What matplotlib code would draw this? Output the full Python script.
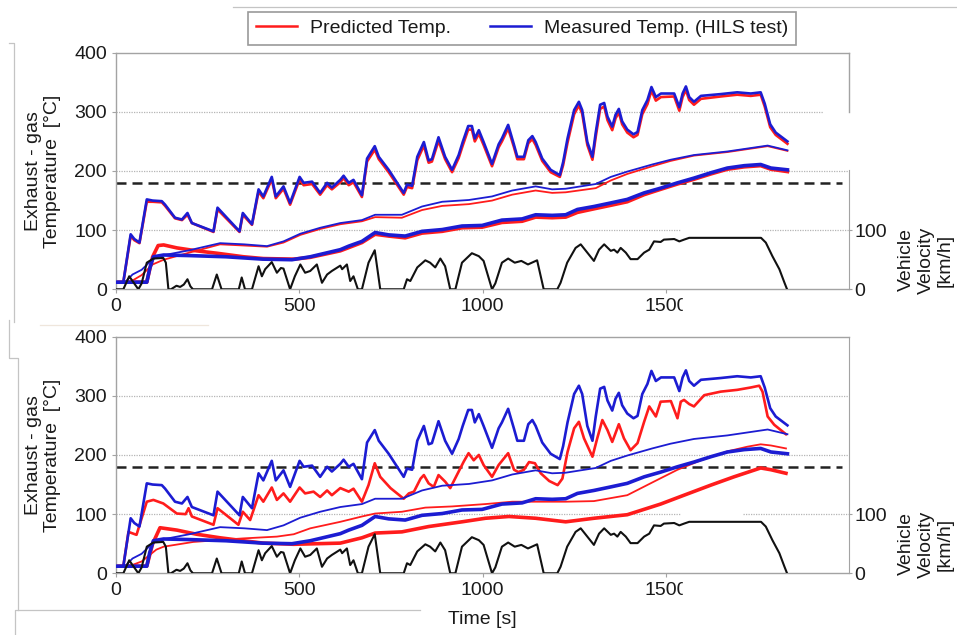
import matplotlib
matplotlib.use('Agg')
import numpy as np
from matplotlib import pyplot as plt
from matplotlib.lines import Line2D
from matplotlib.patches import Rectangle

# ---- data (time in s, temperature in degC, speed in km/h) ----

# spiky upstream curve, measured (same in both panels)
t_a = [0, 20, 40, 50, 64, 84, 100, 125, 134, 161,
       180, 195, 207, 266, 277, 337, 346, 371, 389, 402,
       425, 436, 457, 475, 501, 512, 535, 557, 576, 589,
       612, 621, 635, 648, 671, 685, 706, 717, 744, 785,
       794, 808, 822, 840, 853, 862, 880, 898, 917, 935,
       946, 961, 971, 979, 990, 1003, 1026, 1044, 1053, 1070,
       1086, 1095, 1113, 1125, 1136, 1145, 1163, 1186, 1211, 1220,
       1232, 1250, 1263, 1272, 1286, 1300, 1309, 1321, 1332, 1341,
       1354, 1363, 1372, 1381, 1395, 1412, 1423, 1436, 1450, 1461,
       1473, 1487, 1523, 1537, 1546, 1555, 1564, 1577, 1596, 1650,
       1695, 1732, 1759, 1770, 1785, 1800, 1832]
meas_a = [12, 12, 93, 85, 79, 152, 150, 149, 143, 121,
          118, 129, 112, 98, 138, 98, 129, 110, 169, 157,
          190, 157, 174, 146, 190, 180, 182, 163, 180, 172,
          185, 192, 180, 185, 159, 221, 242, 224, 202, 163,
          177, 175, 224, 249, 218, 220, 257, 224, 202, 227,
          249, 276, 276, 255, 269, 249, 212, 245, 255, 278,
          244, 224, 224, 252, 259, 249, 221, 202, 193, 215,
          255, 303, 317, 303, 249, 224, 265, 312, 315, 292,
          275, 295, 305, 284, 270, 262, 266, 303, 320, 342,
          325, 331, 331, 308, 331, 343, 325, 317, 327, 330,
          333, 331, 333, 314, 279, 265, 250]
pred_a_top = [12, 12, 90, 83, 78, 148, 148, 147, 141, 120,
              117, 126, 112, 97, 135, 97, 126, 109, 165, 154,
              186, 154, 170, 143, 186, 176, 178, 160, 176, 169,
              181, 188, 176, 181, 156, 216, 236, 220, 198, 160,
              173, 171, 218, 243, 214, 216, 251, 220, 198, 222,
              243, 270, 270, 250, 263, 244, 208, 240, 250, 272,
              240, 220, 220, 247, 254, 244, 217, 198, 190, 210,
              248, 296, 311, 297, 244, 219, 258, 305, 309, 286,
              269, 289, 299, 279, 265, 257, 261, 296, 313, 336,
              319, 325, 326, 302, 325, 337, 320, 312, 322, 326,
              329, 327, 329, 309, 274, 261, 246]

t_a_bot = [0, 20, 34, 56, 84, 102, 129, 166, 190, 198,
           207, 266, 277, 334, 346, 366, 389, 402, 425, 439,
           457, 475, 501, 516, 539, 557, 576, 589, 612, 635,
           648, 671, 689, 706, 721, 749, 785, 799, 813, 831,
           840, 853, 867, 880, 898, 912, 935, 949, 962, 976,
           990, 1003, 1026, 1044, 1070, 1086, 1098, 1113, 1127, 1143,
           1159, 1182, 1205, 1218, 1232, 1250, 1263, 1277, 1300, 1313,
           1327, 1341, 1354, 1372, 1386, 1404, 1423, 1441, 1455, 1473,
           1486, 1514, 1532, 1541, 1550, 1564, 1577, 1605, 1650, 1695,
           1732, 1755, 1764, 1778, 1796, 1828]
pred_a_bot = [12, 12, 70, 65, 121, 124, 118, 101, 100, 110,
              96, 82, 110, 82, 104, 90, 132, 121, 145, 124,
              135, 121, 145, 135, 138, 129, 140, 132, 144, 138,
              143, 121, 149, 186, 163, 144, 126, 135, 138, 160,
              166, 152, 146, 166, 155, 144, 172, 189, 203, 191,
              200, 183, 163, 183, 203, 175, 171, 175, 188, 186,
              169, 156, 149, 160, 205, 245, 256, 228, 197, 228,
              259, 242, 222, 252, 228, 208, 220, 256, 282, 265,
              290, 291, 262, 290, 293, 286, 282, 301, 307, 310,
              314, 317, 307, 265, 251, 235]

# smooth middle curve (thin)
t_b = [0, 25, 45, 70, 95, 110, 150, 200, 284, 350,
       412, 457, 503, 557, 612, 671, 707, 780, 835, 890,
       963, 1026, 1081, 1145, 1190, 1227, 1309, 1350, 1395, 1463,
       1513, 1577, 1668, 1778, 1832]
meas_b = [12, 12, 25, 33, 48, 55, 60, 66, 78, 76,
          73, 81, 94, 104, 112, 117, 126, 126, 140, 148,
          151, 157, 167, 174, 169, 170, 178, 190, 199, 211,
          219, 227, 233, 243, 235]
t_b_top = [0, 40, 70, 100, 130, 200, 284, 350, 412, 457,
           503, 557, 612, 671, 707, 780, 835, 890, 963, 1026,
           1081, 1145, 1190, 1227, 1309, 1350, 1395, 1463, 1513, 1577,
           1668, 1778, 1832]
pred_b_top = [12, 13, 24, 42, 50, 62, 76, 74, 72, 79,
              92, 102, 110, 115, 122, 121, 134, 141, 144, 150,
              160, 167, 163, 164, 171, 184, 195, 208, 217, 226,
              232, 242, 234]
t_b_bot = [0, 40, 70, 90, 110, 130, 211, 300, 348, 439,
           485, 530, 612, 671, 707, 780, 844, 917, 1008, 1081,
           1145, 1227, 1304, 1395, 1468, 1532, 1596, 1668, 1723, 1759,
           1787, 1828]
pred_b_bot = [12, 13, 20, 30, 40, 45, 53, 57, 59, 62,
              66, 76, 87, 96, 101, 104, 111, 113, 117, 121,
              121, 121, 122, 132, 155, 175, 191, 206, 214, 218,
              216, 211]

# smooth lower curve (thick)
t_c = [0, 84, 92, 102, 130, 200, 300, 400, 480, 530,
       612, 635, 671, 707, 744, 789, 835, 890, 944, 999,
       1053, 1108, 1145, 1190, 1227, 1259, 1304, 1350, 1395, 1441,
       1486, 1532, 1577, 1623, 1668, 1714, 1759, 1787, 1832]
meas_c = [12, 12, 35, 55, 58, 57, 55, 51, 50, 55,
          67, 73, 81, 96, 92, 90, 98, 101, 107, 108,
          117, 119, 126, 125, 126, 135, 140, 146, 152, 163,
          171, 180, 188, 197, 205, 209, 211, 205, 202]
t_c_top = [0, 84, 100, 115, 130, 166, 220, 275, 348, 402,
           485, 530, 612, 671, 707, 744, 789, 835, 890, 944,
           999, 1053, 1108, 1145, 1190, 1227, 1259, 1304, 1350, 1395,
           1441, 1486, 1532, 1577, 1623, 1668, 1714, 1759, 1787, 1832]
pred_c_top = [12, 12, 55, 74, 75, 70, 65, 61, 55, 52,
              51, 54, 65, 79, 93, 90, 87, 95, 98, 104,
              105, 113, 115, 122, 121, 122, 130, 136, 142, 148,
              160, 169, 178, 186, 195, 203, 207, 209, 203, 199]
t_c_bot = [0, 84, 100, 120, 166, 220, 284, 348, 402, 485,
           548, 612, 671, 707, 780, 853, 944, 1008, 1072, 1145,
           1227, 1304, 1395, 1486, 1550, 1623, 1686, 1759, 1787, 1828]
pred_c_bot = [12, 12, 50, 77, 73, 66, 60, 55, 51, 49,
              50, 51, 60, 68, 70, 79, 87, 93, 96, 93,
              87, 93, 99, 117, 132, 149, 163, 178, 175, 169]

# vehicle speed
t_v = [0, 20, 36, 61, 70, 84, 102, 129, 136, 143,
       150, 165, 175, 185, 195, 203, 210, 262, 275, 288,
       335, 343, 352, 371, 389, 398, 407, 425, 439, 450,
       457, 475, 488, 503, 516, 530, 548, 562, 576, 589,
       612, 617, 630, 639, 648, 660, 671, 689, 706, 721,
       785, 794, 803, 822, 844, 857, 871, 885, 898, 912,
       926, 944, 971, 990, 1003, 1026, 1035, 1053, 1070, 1088,
       1106, 1124, 1149, 1167, 1204, 1213, 1231, 1254, 1268, 1286,
       1304, 1318, 1332, 1350, 1359, 1368, 1377, 1391, 1404, 1423,
       1441, 1455, 1468, 1486, 1495, 1523, 1537, 1550, 1564, 1760,
       1773, 1791, 1810, 1824, 1831]
speed = [0, 0, 22, 0, 10, 45, 52, 53, 45, 0,
         0, 6, 4, 8, 17, 5, 0, 0, 25, 0,
         0, 20, 0, 0, 39, 22, 34, 46, 28, 36,
         35, 0, 22, 42, 28, 31, 42, 11, 25, 31,
         40, 34, 42, 14, 22, 0, 0, 45, 66, 0,
         0, 17, 14, 37, 49, 45, 37, 52, 39, 0,
         0, 45, 61, 56, 48, 0, 10, 45, 52, 45,
         48, 42, 49, 0, 0, 11, 45, 70, 76, 62,
         48, 67, 76, 65, 67, 62, 70, 62, 51, 51,
         62, 67, 81, 80, 84, 85, 81, 84, 87, 87,
         79, 56, 34, 11, 0]

threshold = 180
y_ticks = [0, 100, 200, 300, 400]
x_ticks = [0, 500, 1000, 1500]
v_ticks = [0, 100]

RED = '#ff1c1c'
BLUE = '#1c1cd2'
GRAY = '#a3a3a3'
TXT = '#1a1a1a'
W, H = 957, 635


def px_box(x0, y0, x1, y1):
	return [x0 / W, 1 - y1 / H, (x1 - x0) / W, (y1 - y0) / H]


def fig_line(fig, x, y, color='#c4c4c4'):
	fig.add_artist(Line2D([v / W for v in x], [1 - v / H for v in y],
			transform=fig.transFigure, color=color, lw=0.9))


def panel(fig, box, red_series, grid_segs, right_gap):
	ax = fig.add_axes(box)
	ax.set_xlim(0, 2000)
	ax.set_ylim(0, 400)
	for s in ax.spines.values():
		s.set_color(GRAY)
		s.set_linewidth(1.0)
	for y, segs in grid_segs:
		for a, b in segs:
			ax.axhline(y, a, b, color='#b5b5b5', lw=0.9, ls=(0, (1, 1)), zorder=0)
	ax.axhline(threshold, 0, 0.99, color='#222222', lw=1.8, ls=(0, (4, 2.4)), zorder=1)

	# predicted below, measured on top
	for (t, v), lw in zip(red_series, [1.9, 1.3, 2.6]):
		ax.plot(t, v, color=RED, lw=lw, zorder=2, solid_joinstyle='round')
	for t, v, lw in [(t_a, meas_a, 1.9), (t_b, meas_b, 1.3), (t_c, meas_c, 2.6)]:
		ax.plot(t, v, color=BLUE, lw=lw, zorder=3, solid_joinstyle='round')

	ax.set_xticks(x_ticks)
	ax.set_yticks(y_ticks)
	ax.tick_params(axis='both', labelsize=14, labelcolor=TXT, color=GRAY,
			length=3, width=0.8, pad=3.5)
	ax.set_ylabel('Exhaust - gas\nTemperature  [°C]', fontsize=14, color=TXT,
			linespacing=1.15)
	ax.yaxis.set_label_coords(-0.075, 0.5)

	axv = ax.twinx()
	axv.set_ylim(0, 400)
	axv.plot(t_v, speed, color='#111111', lw=1.5, zorder=2)
	axv.set_yticks(v_ticks)
	axv.tick_params(axis='y', labelsize=14, labelcolor=TXT, color=GRAY,
			length=2, width=0.8, pad=2)
	for k in ['left', 'top', 'bottom']:
		axv.spines[k].set_visible(False)
	axv.spines['right'].set_color(GRAY)
	if right_gap:
		ax.spines['right'].set_bounds(300, 400)
		axv.spines['right'].set_bounds(0, 201)
	else:
		ax.spines['right'].set_visible(False)
	axv.text(1.105, 0.124, 'Vehicle\nVelocity\n[km/h]', transform=axv.transAxes,
			rotation=90, ha='center', va='center', multialignment='center',
			fontsize=14, color=TXT, linespacing=1.2)
	return ax


def main():
	plt.rcParams['font.family'] = ['Liberation Sans', 'DejaVu Sans']
	fig = plt.figure(figsize=(W / 100, H / 100), dpi=100)

	full = [(0, 1)]
	top_grid = [(100, [(0, 0.769), (0.881, 1)]), (200, full), (300, [(0, 0.964)])]
	bot_grid = [(100, [(0, 0.769), (0.855, 1)]), (200, full), (300, full)]

	panel(fig, px_box(116, 52.7, 849, 289.3),
		[(t_a, pred_a_top), (t_b_top, pred_b_top), (t_c_top, pred_c_top)],
		top_grid, True)
	ax2 = panel(fig, px_box(116, 336.6, 849, 573.3),
		[(t_a_bot, pred_a_bot), (t_b_bot, pred_b_bot), (t_c_bot, pred_c_bot)],
		bot_grid, False)
	ax2.set_xlabel('Time [s]', fontsize=14, color=TXT, va='top')
	ax2.xaxis.set_label_coords(0.5, -0.16)

	handles = [Line2D([], [], color=RED, lw=1.8), Line2D([], [], color=BLUE, lw=1.8)]
	leg = fig.legend(handles, ['Predicted Temp.', 'Measured Temp. (HILS test)'],
			loc='center', bbox_to_anchor=(522 / W, 1 - 28.5 / H), ncol=2,
			fontsize=14, frameon=True, fancybox=False, framealpha=1,
			edgecolor='#9a9a9a', handlelength=2.1, handletextpad=0.67,
			columnspacing=2.0, borderpad=0.4)
	leg.get_frame().set_linewidth(1.2)
	for txt in leg.get_texts():
		txt.set_color(TXT)

	# screenshot edges and the cut-off "1500" labels
	fig_line(fig, [233, 957], [7, 7])
	fig_line(fig, [9, 14, 14], [43, 43, 322])
	fig_line(fig, [9, 9, 18, 18], [320, 358, 358, 610])
	fig_line(fig, [15, 15, 420], [635, 610, 610])
	fig_line(fig, [40, 208], [325, 325], color='#efe6dc')
	for y0 in (295, 580):
		fig.add_artist(Rectangle((683 / W, 1 - (y0 + 26) / H), 80 / W, 26 / H,
				transform=fig.transFigure, color='white', zorder=10))

	fig.savefig('out.png', dpi=100)
	return 0


if __name__ == '__main__':
	main()
